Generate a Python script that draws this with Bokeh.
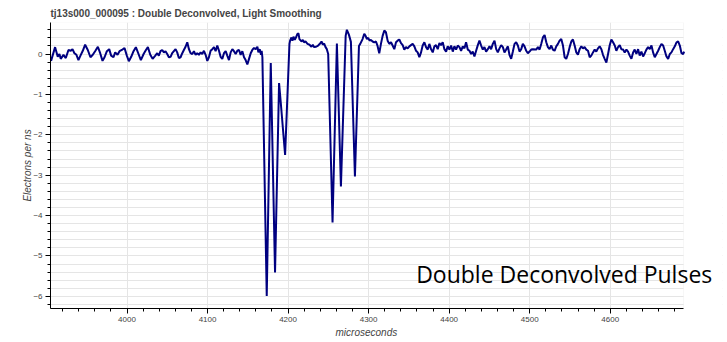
from bokeh.plotting import figure
from bokeh.models import Range1d, SingleIntervalTicker, Label, BoxAnnotation, Title
from bokeh.embed import file_html
from bokeh.resources import INLINE

# Trace pieces: time in microseconds, signal in electrons per ns.
baseline_t = [3905.7, 3910.7, 3914.0, 3916.1, 3917.7, 3921.1, 3924.0, 3927.3, 3930.2, 3932.3,
              3934.7, 3937.2, 3939.7, 3942.2, 3945.1, 3948.0, 3951.3, 3954.6, 3957.5, 3960.4,
              3963.8, 3966.7, 3969.6, 3972.1, 3975.0, 3977.9, 3980.3, 3983.2, 3985.3, 3988.2,
              3990.7, 3993.6, 3996.9, 3999.8, 4002.3, 4005.2, 4008.1, 4011.0, 4014.3, 4017.2,
              4020.6, 4023.5, 4025.9, 4028.9, 4031.8, 4035.1, 4037.5, 4039.5, 4041.6, 4043.7,
              4045.8, 4047.8, 4049.9, 4052.0, 4054.1, 4056.1, 4058.2, 4060.3, 4062.3, 4064.4,
              4066.5, 4068.6, 4070.6, 4072.7, 4074.8, 4076.9, 4078.9, 4081.0, 4083.1, 4085.2,
              4087.2, 4089.3, 4091.4, 4093.4, 4095.5, 4097.6, 4099.7, 4101.7, 4103.8, 4105.9,
              4108.0, 4110.0, 4112.1, 4114.2, 4116.2, 4118.3, 4120.4, 4122.5, 4124.5, 4126.6,
              4128.7, 4130.8, 4132.8, 4134.9, 4137.0, 4139.1, 4141.1, 4143.2, 4145.3, 4147.3,
              4149.4, 4151.5, 4153.6, 4155.6, 4157.7, 4159.8, 4161.9, 4163.1, 4164.8, 4166.4,
              4167.2, 4168.1]
baseline_v = [-0.17, 0.17, -0.07, 0.00, -0.12, -0.02, -0.10, 0.10, 0.08, 0.12,
              0.02, -0.02, -0.15, -0.04, 0.08, 0.23, 0.10, -0.08, -0.02, 0.07,
              0.18, 0.02, -0.17, -0.08, 0.07, 0.12, -0.04, -0.08, 0.04, -0.02,
              0.07, 0.10, 0.15, -0.04, -0.18, -0.07, 0.07, 0.17, 0.00, -0.15,
              0.00, 0.10, 0.17, -0.02, -0.12, -0.04, 0.02, -0.04, 0.07, 0.10,
              0.04, 0.07, 0.00, -0.08, -0.07, 0.02, 0.07, 0.12, 0.04, -0.10,
              -0.08, 0.02, 0.10, 0.18, 0.29, 0.12, 0.02, 0.00, 0.07, -0.02,
              0.02, -0.02, 0.04, 0.00, 0.08, -0.02, -0.17, -0.08, 0.08, 0.12,
              0.17, 0.07, 0.21, 0.08, -0.07, -0.12, 0.02, 0.07, -0.04, -0.15,
              0.04, 0.12, 0.07, 0.00, 0.08, 0.10, -0.02, 0.07, -0.08, -0.15,
              -0.26, -0.12, 0.02, 0.10, 0.15, 0.12, 0.18, 0.04, 0.12, -0.02,
              0.08, -0.08]

first_pulses_t = [4173.5, 4178.5, 4183.8, 4188.8, 4190.9, 4196.3, 4201.7]
first_pulses_v = [-5.99, -0.22, -5.41, -0.72, -1.20, -2.50, 0.25]

plateau_t = [4202.5, 4204.2, 4205.4, 4206.7, 4208.3, 4209.6, 4211.6, 4212.9, 4214.1, 4216.6,
             4218.3, 4219.9, 4221.6, 4224.1, 4226.6, 4229.0, 4230.7, 4232.4, 4234.8, 4237.3,
             4239.8, 4241.5, 4243.1, 4244.8, 4246.5, 4248.1, 4249.8]
plateau_v = [0.33, 0.41, 0.33, 0.43, 0.35, 0.40, 0.50, 0.51, 0.37, 0.31,
             0.35, 0.29, 0.31, 0.25, 0.23, 0.18, 0.23, 0.17, 0.18, 0.21,
             0.26, 0.31, 0.23, 0.26, 0.17, 0.12, 0.00]

second_pulses_t = [4255.2, 4260.6, 4265.6, 4271.5, 4273.0, 4275.5, 4278.0, 4283.0, 4288.0, 4289.6,
                   4292.5, 4294.6, 4296.2, 4297.9, 4299.5, 4301.2, 4302.8, 4304.9, 4307.0, 4309.1,
                   4311.1, 4313.2]
second_pulses_v = [-4.17, 0.26, -3.28, 0.45, 0.60, 0.48, 0.30, -3.03, 0.20, 0.25,
                   0.37, 0.50, 0.45, 0.37, 0.40, 0.33, 0.35, 0.31, 0.29, 0.31,
                   0.20, 0.02]

tail_t = [4315.3, 4317.4, 4319.5, 4321.5, 4323.6, 4325.7, 4327.8, 4329.8, 4331.9, 4334.0,
          4336.0, 4338.1, 4340.2, 4342.3, 4344.3, 4346.4, 4348.5, 4350.6, 4352.6, 4354.7,
          4356.8, 4358.9, 4360.9, 4363.0, 4365.1, 4367.1, 4369.2, 4371.3, 4373.4, 4375.4,
          4377.5, 4379.6, 4381.7, 4383.7, 4385.8, 4387.9, 4389.9, 4392.0, 4394.1, 4396.2,
          4398.2, 4400.3, 4402.4, 4404.5, 4406.5, 4408.6, 4410.7, 4412.8, 4414.8, 4416.9,
          4419.0, 4421.0, 4423.1, 4425.2, 4427.3, 4429.3, 4431.4, 4433.5, 4435.6, 4437.6,
          4439.7, 4441.8, 4443.8, 4445.9, 4448.0, 4450.1, 4452.1, 4454.2, 4456.3, 4458.4,
          4460.4, 4462.5, 4464.6, 4466.7, 4468.7, 4470.8, 4472.9, 4474.9, 4477.0, 4479.1,
          4481.2, 4483.2, 4485.3, 4487.4, 4489.5, 4491.5, 4493.6, 4495.7, 4497.7, 4499.8,
          4501.9, 4504.0, 4508.1, 4510.2, 4512.3, 4514.3, 4516.4, 4518.5, 4520.6, 4522.6,
          4524.7, 4526.8, 4528.8, 4530.9, 4533.0, 4535.1, 4537.1, 4539.2, 4541.3, 4543.4,
          4545.4, 4547.5, 4549.6, 4551.7, 4553.7, 4555.8, 4557.9, 4559.9, 4562.0, 4564.1,
          4566.2, 4568.2, 4570.3, 4572.4, 4574.5, 4576.5, 4578.6, 4580.7, 4582.7, 4584.8,
          4586.9, 4589.0, 4591.0, 4593.1, 4595.2, 4597.3, 4599.3, 4601.4, 4603.5, 4605.6,
          4607.6, 4609.7, 4611.8, 4613.8, 4615.9, 4618.0, 4620.1, 4622.1, 4624.2, 4626.3,
          4628.4, 4630.4, 4632.5, 4634.6, 4636.6, 4638.7, 4640.8, 4642.9, 4644.9, 4647.0,
          4649.1, 4651.2, 4653.2, 4655.3, 4657.4, 4659.5, 4661.5, 4663.6, 4665.7, 4667.7,
          4669.8, 4671.9, 4674.0, 4676.0, 4678.1, 4680.2, 4682.3, 4684.3, 4686.4, 4688.5,
          4690.5, 4691.8]
tail_v = [0.25, 0.45, 0.58, 0.54, 0.33, 0.25, 0.29, 0.21, 0.12, 0.29,
          0.33, 0.36, 0.27, 0.22, 0.11, 0.17, 0.14, 0.19, 0.22, 0.25,
          0.19, 0.08, 0.04, -0.08, 0.04, 0.21, 0.29, 0.17, 0.11, 0.25,
          0.12, 0.04, 0.19, 0.22, 0.12, 0.27, 0.22, 0.29, 0.12, 0.06,
          0.19, 0.11, 0.21, 0.06, 0.19, 0.11, 0.21, 0.17, 0.08, 0.19,
          0.14, 0.29, 0.11, 0.08, 0.00, 0.06, -0.06, 0.08, 0.22, 0.33,
          0.21, 0.11, 0.17, 0.06, 0.12, 0.19, 0.12, 0.25, 0.33, 0.12,
          0.04, 0.14, 0.22, 0.17, 0.04, 0.11, 0.19, -0.02, -0.12, 0.06,
          0.25, 0.29, 0.21, 0.06, 0.12, 0.25, 0.19, 0.08, 0.02, 0.06,
          0.11, 0.12, 0.11, 0.17, 0.11, 0.25, 0.41, 0.47, 0.29, 0.17,
          0.12, 0.21, 0.11, 0.08, 0.19, 0.25, 0.33, 0.37, 0.21, -0.08,
          -0.12, 0.00, 0.17, 0.31, 0.36, 0.21, 0.04, -0.02, 0.12, 0.19,
          0.14, 0.17, 0.11, 0.08, -0.08, -0.04, 0.04, 0.11, 0.06, 0.14,
          0.19, 0.12, -0.02, -0.12, -0.21, 0.00, 0.21, 0.36, 0.29, 0.21,
          0.08, 0.17, 0.22, 0.12, 0.11, 0.04, 0.11, 0.06, -0.04, -0.12,
          0.04, 0.11, 0.00, 0.12, -0.04, 0.06, -0.06, 0.02, 0.11, 0.17,
          0.12, 0.21, 0.04, -0.08, 0.00, 0.08, 0.17, 0.25, 0.21, 0.08,
          -0.06, -0.12, 0.00, 0.04, 0.12, 0.19, 0.29, 0.31, 0.21, 0.02,
          0.00, 0.06]

time_us = baseline_t + first_pulses_t + plateau_t + second_pulses_t + tail_t
signal = baseline_v + first_pulses_v + plateau_v + second_pulses_v + tail_v

# visible window of the trace
T_START, T_END = 3905, 4691
V_LOW, V_HIGH = -6.3, 0.78

TEXT = "#444444"
FONT = "Liberation Sans"
GRID = "#e5e5e5"

# The canvas frame runs a little past the data window so that the caption
# can overhang the right edge; the axis, the grid and the outline stop at T_END.
p = figure(
    frame_width=672, frame_height=286,
    min_border_left=50, min_border_right=5, min_border_top=22, min_border_bottom=34,
    x_range=Range1d(T_START, 4739.4), y_range=Range1d(V_LOW, V_HIGH),
    title="tj13s000_000095 : Double Deconvolved, Light Smoothing",
    y_axis_label="Electrons per ns",
    output_backend="svg", toolbar_location=None,
)
p.background_fill_color = "white"
p.border_fill_color = "white"
p.outline_line_color = None

p.title.text_font = FONT
p.title.text_font_size = "10px"
p.title.text_font_style = "bold"
p.title.text_color = TEXT
p.title.standoff = 7

p.xaxis.ticker = SingleIntervalTicker(interval=100, num_minor_ticks=5)
p.yaxis.ticker = SingleIntervalTicker(interval=1, num_minor_ticks=5)
p.xaxis.bounds = (T_START, T_END)

for ax in (p.xaxis[0], p.yaxis[0]):
    ax.major_label_text_font = FONT
    ax.major_label_text_font_size = "8px"
    ax.major_label_text_color = TEXT
    ax.axis_label_text_font = FONT
    ax.axis_label_text_font_size = "10px"
    ax.axis_label_text_font_style = "italic"
    ax.axis_label_text_color = TEXT
    ax.major_tick_out = 5
    ax.major_tick_in = 0
    ax.minor_tick_out = 3
    ax.minor_tick_in = 0
    ax.major_label_standoff = 3
p.yaxis.axis_label_standoff = -3

# x-axis caption, centred under the data window rather than the whole frame
p.add_layout(Title(text="microseconds", align="left", offset=285, standoff=0,
                   text_font=FONT, text_font_size="10px", text_font_style="italic",
                   text_color=TEXT), "below")

p.xgrid.grid_line_color = GRID
p.xgrid.bounds = (T_START, T_END)
p.ygrid.grid_line_color = GRID
p.ygrid.minor_grid_line_color = GRID

# white margin right of the data window hides the grid there
p.add_layout(BoxAnnotation(left=T_END, fill_color="white", fill_alpha=1.0,
                           line_color=None, level="underlay"))
# frame outline around the data window
p.add_layout(BoxAnnotation(left=T_START, right=T_END, bottom=V_LOW, top=V_HIGH,
                           fill_alpha=0, line_color=GRID, line_width=1, level="underlay"))

p.line(time_us, signal, line_color="navy", line_width=2)

p.add_layout(Label(x=4359, y=-5.44, text="Double Deconvolved Pulses",
                   text_font="Open Sans", text_font_size="23px",
                   text_color="black", text_baseline="alphabetic"))

open("out.html", "w").write(file_html(p, INLINE))
